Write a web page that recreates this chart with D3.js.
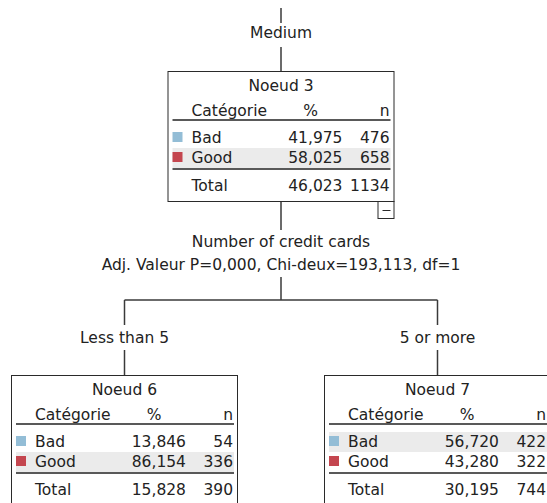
<!DOCTYPE html>
<html>
<head>
<meta charset="utf-8">
<script src="https://cdn.jsdelivr.net/npm/d3@7"></script>
<style>
  html, body { margin: 0; padding: 0; background: #fff; }
  svg { display: block; font-family: "DejaVu Sans", sans-serif; font-size: 15.5px; fill: #222; }
</style>
</head>
<body>
<svg id="tree" width="547" height="503"></svg>
<script>
// Données de l'arbre
const nodeIds = [3, 6, 7];
const categories = ["Bad", "Good"];
const pctValues = [[41.975, 58.025], [13.846, 86.154], [56.720, 43.280]];
const nValues = [[476, 658], [54, 336], [422, 322]];
const totalPct = [46.023, 15.828, 30.195];
const totalN = [1134, 390, 744];
const predicted = ["Good", "Good", "Bad"];
const parentBranch = "Medium";
const branchLabels = ["Less than 5", "5 or more"];
const splitVariable = "Number of credit cards";
const splitStats = "Adj. Valeur P=0,000, Chi-deux=193,113, df=1";

const colors = d3.scaleOrdinal().domain(categories).range(["#93bdd6", "#c4464f"]);
const fr = d3.formatLocale({ decimal: ",", thousands: " ", grouping: [3], currency: ["", " €"] });
const fmtPct = fr.format(".3f");

const boxW = 227, boxH = 130;
const lineCol = "#3a3a3a";

// hiérarchie
const rootData = {
  idx: 0,
  children: [{ idx: 1, branch: branchLabels[0] }, { idx: 2, branch: branchLabels[1] }]
};
const root = d3.hierarchy(rootData);
d3.tree().nodeSize([313, 304])(root);

const svg = d3.select("#tree");
const g = svg.append("g").attr("transform", "translate(281,71)");

// lien vers le parent (hors cadre)
g.append("line").attr("x1", 0).attr("x2", 0).attr("y1", -63).attr("y2", -48)
  .attr("stroke", lineCol).attr("stroke-width", 1.5);
g.append("line").attr("x1", 0).attr("x2", 0).attr("y1", -24).attr("y2", 0)
  .attr("stroke", lineCol).attr("stroke-width", 1.5);
g.append("text").attr("x", 0).attr("y", -38).attr("dy", "0.35em")
  .attr("text-anchor", "middle").text(parentBranch);

// liens
const splitY = 229;
g.append("line").attr("x1", 0).attr("x2", 0).attr("y1", boxH).attr("y2", 159)
  .attr("stroke", lineCol).attr("stroke-width", 1.5);
g.append("line").attr("x1", 0).attr("x2", 0).attr("y1", 206).attr("y2", splitY)
  .attr("stroke", lineCol).attr("stroke-width", 1.5);
g.append("text").attr("x", 0).attr("y", 171).attr("dy", "0.35em")
  .attr("text-anchor", "middle").text(splitVariable);
g.append("text").attr("x", 0).attr("y", 194).attr("dy", "0.35em")
  .attr("text-anchor", "middle").text(splitStats);

const kids = root.children;
g.append("line")
  .attr("x1", kids[0].x).attr("x2", kids[1].x)
  .attr("y1", splitY).attr("y2", splitY)
  .attr("stroke", lineCol).attr("stroke-width", 1.5);

kids.forEach(k => {
  g.append("line").attr("x1", k.x).attr("x2", k.x).attr("y1", splitY).attr("y2", 254)
    .attr("stroke", lineCol).attr("stroke-width", 1.5);
  g.append("line").attr("x1", k.x).attr("x2", k.x).attr("y1", 279).attr("y2", k.y)
    .attr("stroke", lineCol).attr("stroke-width", 1.5);
  g.append("text").attr("x", k.x).attr("y", 267).attr("dy", "0.35em")
    .attr("text-anchor", "middle").text(k.data.branch);
});

// noeuds
root.descendants().forEach(d => {
  const i = d.data.idx;
  const ng = g.append("g").attr("transform", `translate(${d.x - boxW / 2},${d.y})`);
  ng.append("rect").attr("x", 0.5).attr("y", 0.5).attr("width", boxW - 1).attr("height", boxH)
    .attr("fill", "#fff").attr("stroke", "#2a2a2a").attr("stroke-width", 1);

  ng.append("text").attr("x", boxW / 2).attr("y", 15).attr("dy", "0.35em")
    .attr("text-anchor", "middle").text("Noeud " + nodeIds[i]);

  // en-tête
  ng.append("text").attr("x", 24).attr("y", 40).attr("dy", "0.35em").text("Catégorie");
  ng.append("text").attr("x", 143).attr("y", 40).attr("dy", "0.35em")
    .attr("text-anchor", "middle").text("%");
  ng.append("text").attr("x", 222).attr("y", 40).attr("dy", "0.35em")
    .attr("text-anchor", "end").text("n");

  const rowY = d3.scaleBand().domain(categories).range([57, 97]);

  categories.forEach((c, j) => {
    const y0 = rowY(c);
    if (predicted[i] === c) {
      ng.append("rect").attr("x", 5).attr("y", y0).attr("width", 218).attr("height", rowY.bandwidth())
        .attr("fill", "#ebebeb");
    }
    const cy = y0 + rowY.bandwidth() / 2;
    ng.append("rect").attr("x", 5).attr("y", cy - 6).attr("width", 10).attr("height", 10)
      .attr("fill", colors(c));
    ng.append("text").attr("x", 24).attr("y", cy).attr("dy", "0.35em").text(c);
    ng.append("text").attr("x", 175).attr("y", cy).attr("dy", "0.35em")
      .attr("text-anchor", "end").text(fmtPct(pctValues[i][j]));
    ng.append("text").attr("x", 222).attr("y", cy).attr("dy", "0.35em")
      .attr("text-anchor", "end").text(nValues[i][j]);
  });

  ng.append("line").attr("x1", 5).attr("x2", 223).attr("y1", 49).attr("y2", 49)
    .attr("stroke", "#222").attr("stroke-width", 1.5);
  ng.append("line").attr("x1", 5).attr("x2", 223).attr("y1", 98).attr("y2", 98)
    .attr("stroke", "#222").attr("stroke-width", 1.5);

  ng.append("text").attr("x", 24).attr("y", 115).attr("dy", "0.35em").text("Total");
  ng.append("text").attr("x", 175).attr("y", 115).attr("dy", "0.35em")
    .attr("text-anchor", "end").text(fmtPct(totalPct[i]));
  ng.append("text").attr("x", 222).attr("y", 115).attr("dy", "0.35em")
    .attr("text-anchor", "end").text(totalN[i]);

  // bouton de réduction
  if (d.children) {
    ng.append("rect").attr("x", boxW - 16.5).attr("y", boxH + 0.5).attr("width", 16).attr("height", 17)
      .attr("fill", "#fff").attr("stroke", "#2a2a2a").attr("stroke-width", 1);
    ng.append("line").attr("x1", boxW - 12).attr("x2", boxW - 4).attr("y1", boxH + 9.5).attr("y2", boxH + 9.5)
      .attr("stroke", "#2a2a2a").attr("stroke-width", 1);
  }
});
</script>
</body>
</html>
